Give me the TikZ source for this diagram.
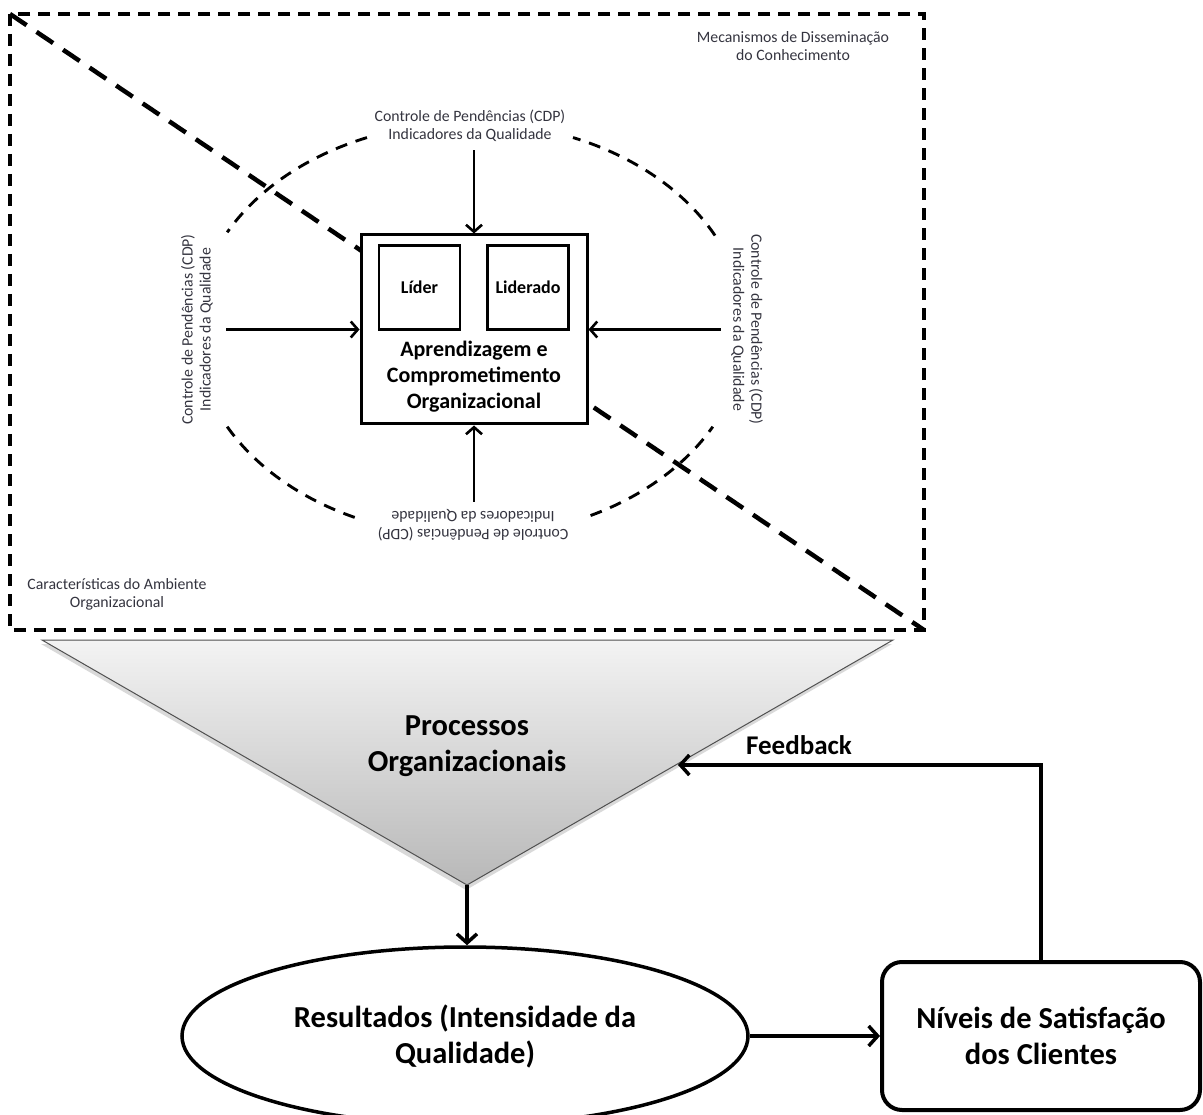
\documentclass[tikz,border=0pt]{standalone}
\usepackage{fontspec}
\setmainfont{Carlito}
\usetikzlibrary{arrows.meta,shapes.geometric,calc}
\definecolor{labelgray}{HTML}{34343F}
\definecolor{funneltop}{HTML}{F3F3F3}
\definecolor{funnelbot}{HTML}{B8B8B8}
\definecolor{funnelline}{HTML}{505050}
\begin{document}
\begin{tikzpicture}[x=1pt,y=-1pt,
  frameline/.style={line width=3.5pt, dash pattern=on 12pt off 8pt},
  diagline/.style={line width=4.5pt, dash pattern=on 20pt off 12pt},
  ringline/.style={line width=2.9pt, dash pattern=on 12pt off 9pt},
  note/.style={font=\fontsize{15.8}{18}\selectfont, text=labelgray, align=center, inner sep=0pt},
  inbox/.style={draw, line width=2.6pt, minimum width=81pt, minimum height=84pt, font=\bfseries\fontsize{18}{22}\selectfont},
  bigtext/.style={font=\bfseries\fontsize{30.5}{36}\selectfont, align=center},
  inarrow/.style={line width=2.6pt, -{Straight Barb[length=7pt,width=16pt,line width=2.6pt]}},
  flowarrow/.style={line width=3.5pt, -{Straight Barb[length=9pt,width=20pt,line width=3.5pt]}},
]
\useasboundingbox (0,0) rectangle (1203,1115);

% outer dashed frame with its diagonal
\coordinate (fTL) at (10,14);
\coordinate (fBR) at (924,630);
\draw[frameline] (fTL) rectangle (fBR);
\draw[diagline] (fTL) -- (fBR);

% dashed ring, interrupted where the labels sit
\coordinate (ring) at (470,329.5);
\foreach \a/\b in {112/152, 208/247, 296/332, 27/68}
  \draw[ringline] ([shift={(-\a:275 and 207)}]ring) arc[start angle=-\a, end angle=-\b, x radius=275, y radius=207];

% central block
\node[draw, line width=3pt, fill=white, minimum width=226pt, minimum height=189pt] (core) at (474,329.5) {};
\node[inbox] (lider) at (419.5,287.5) {Líder};
\node[inbox] (liderado) at (528,287.5) {Liderado};
\node[font=\bfseries\fontsize{22}{26}\selectfont, align=center] (coretxt) at (474,377) {Aprendizagem e\\Comprometimento\\Organizacional};

% labels around the ring
\node[note] (lblT) at (470,126) {Controle de Pendências (CDP)\\Indicadores da Qualidade};
\node[note, rotate=90] (lblL) at (197,329.5) {Controle de Pendências (CDP)\\Indicadores da Qualidade};
\node[note, rotate=-90] (lblR) at (747,329.5) {Controle de Pendências (CDP)\\Indicadores da Qualidade};
\node[note, rotate=180] (lblB) at (473,525) {Controle de Pendências (CDP)\\Indicadores da Qualidade};

\draw[inarrow, shorten <=8pt] (lblT.south -| core.north) -- (core.north);
\draw[inarrow, shorten <=13pt] (lblL.south) -- (lblL.south -| core.west);
\draw[inarrow, shorten <=10pt] (lblR.south) -- (lblR.south -| core.east);
\draw[inarrow, shorten <=7pt] (lblB.south -| core.south) -- (core.south);

% frame captions
\node[note] (mech) at (793,46) {Mecanismos de Disseminação\\do Conhecimento};
\node[note] (amb) at (117,594) {Características do Ambiente\\Organizacional};

% funnel
\coordinate (triL) at (42,640);
\coordinate (triR) at (893,640);
\coordinate (triA) at (467,885);
\fill[black, opacity=0.15] ($(triL)+(-1,4)$) -- ($(triR)+(-1,4)$) -- ($(triA)+(-1,5)$) -- cycle;
\shade[top color=funneltop, bottom color=funnelbot, draw=funnelline, line width=1pt] (triL) -- (triR) -- (triA) -- cycle;
\node[bigtext] (proc) at (467,746) {Processos\\Organizacionais};

% results and satisfaction
\node[ellipse, draw, line width=3.5pt, minimum width=566pt, minimum height=178pt, bigtext] (res) at (465,1036) {Resultados (Intensidade da\\Qualidade)};
\node[draw, rounded corners=20pt, line width=4pt, minimum width=318pt, minimum height=148pt, bigtext] (sat) at (1041,1036) {Níveis de Satisfação\\dos Clientes};

\draw[flowarrow] (triA) -- (triA |- res.north);
\draw[flowarrow] (res.east) -- (sat.west);
\coordinate (fbEnd) at (678,765);
\draw[flowarrow, line width=4pt] (sat.north) |- (fbEnd);
\node[font=\bfseries\fontsize{27}{32}\selectfont] (fb) at (799,745) {Feedback};
\end{tikzpicture}
\end{document}
